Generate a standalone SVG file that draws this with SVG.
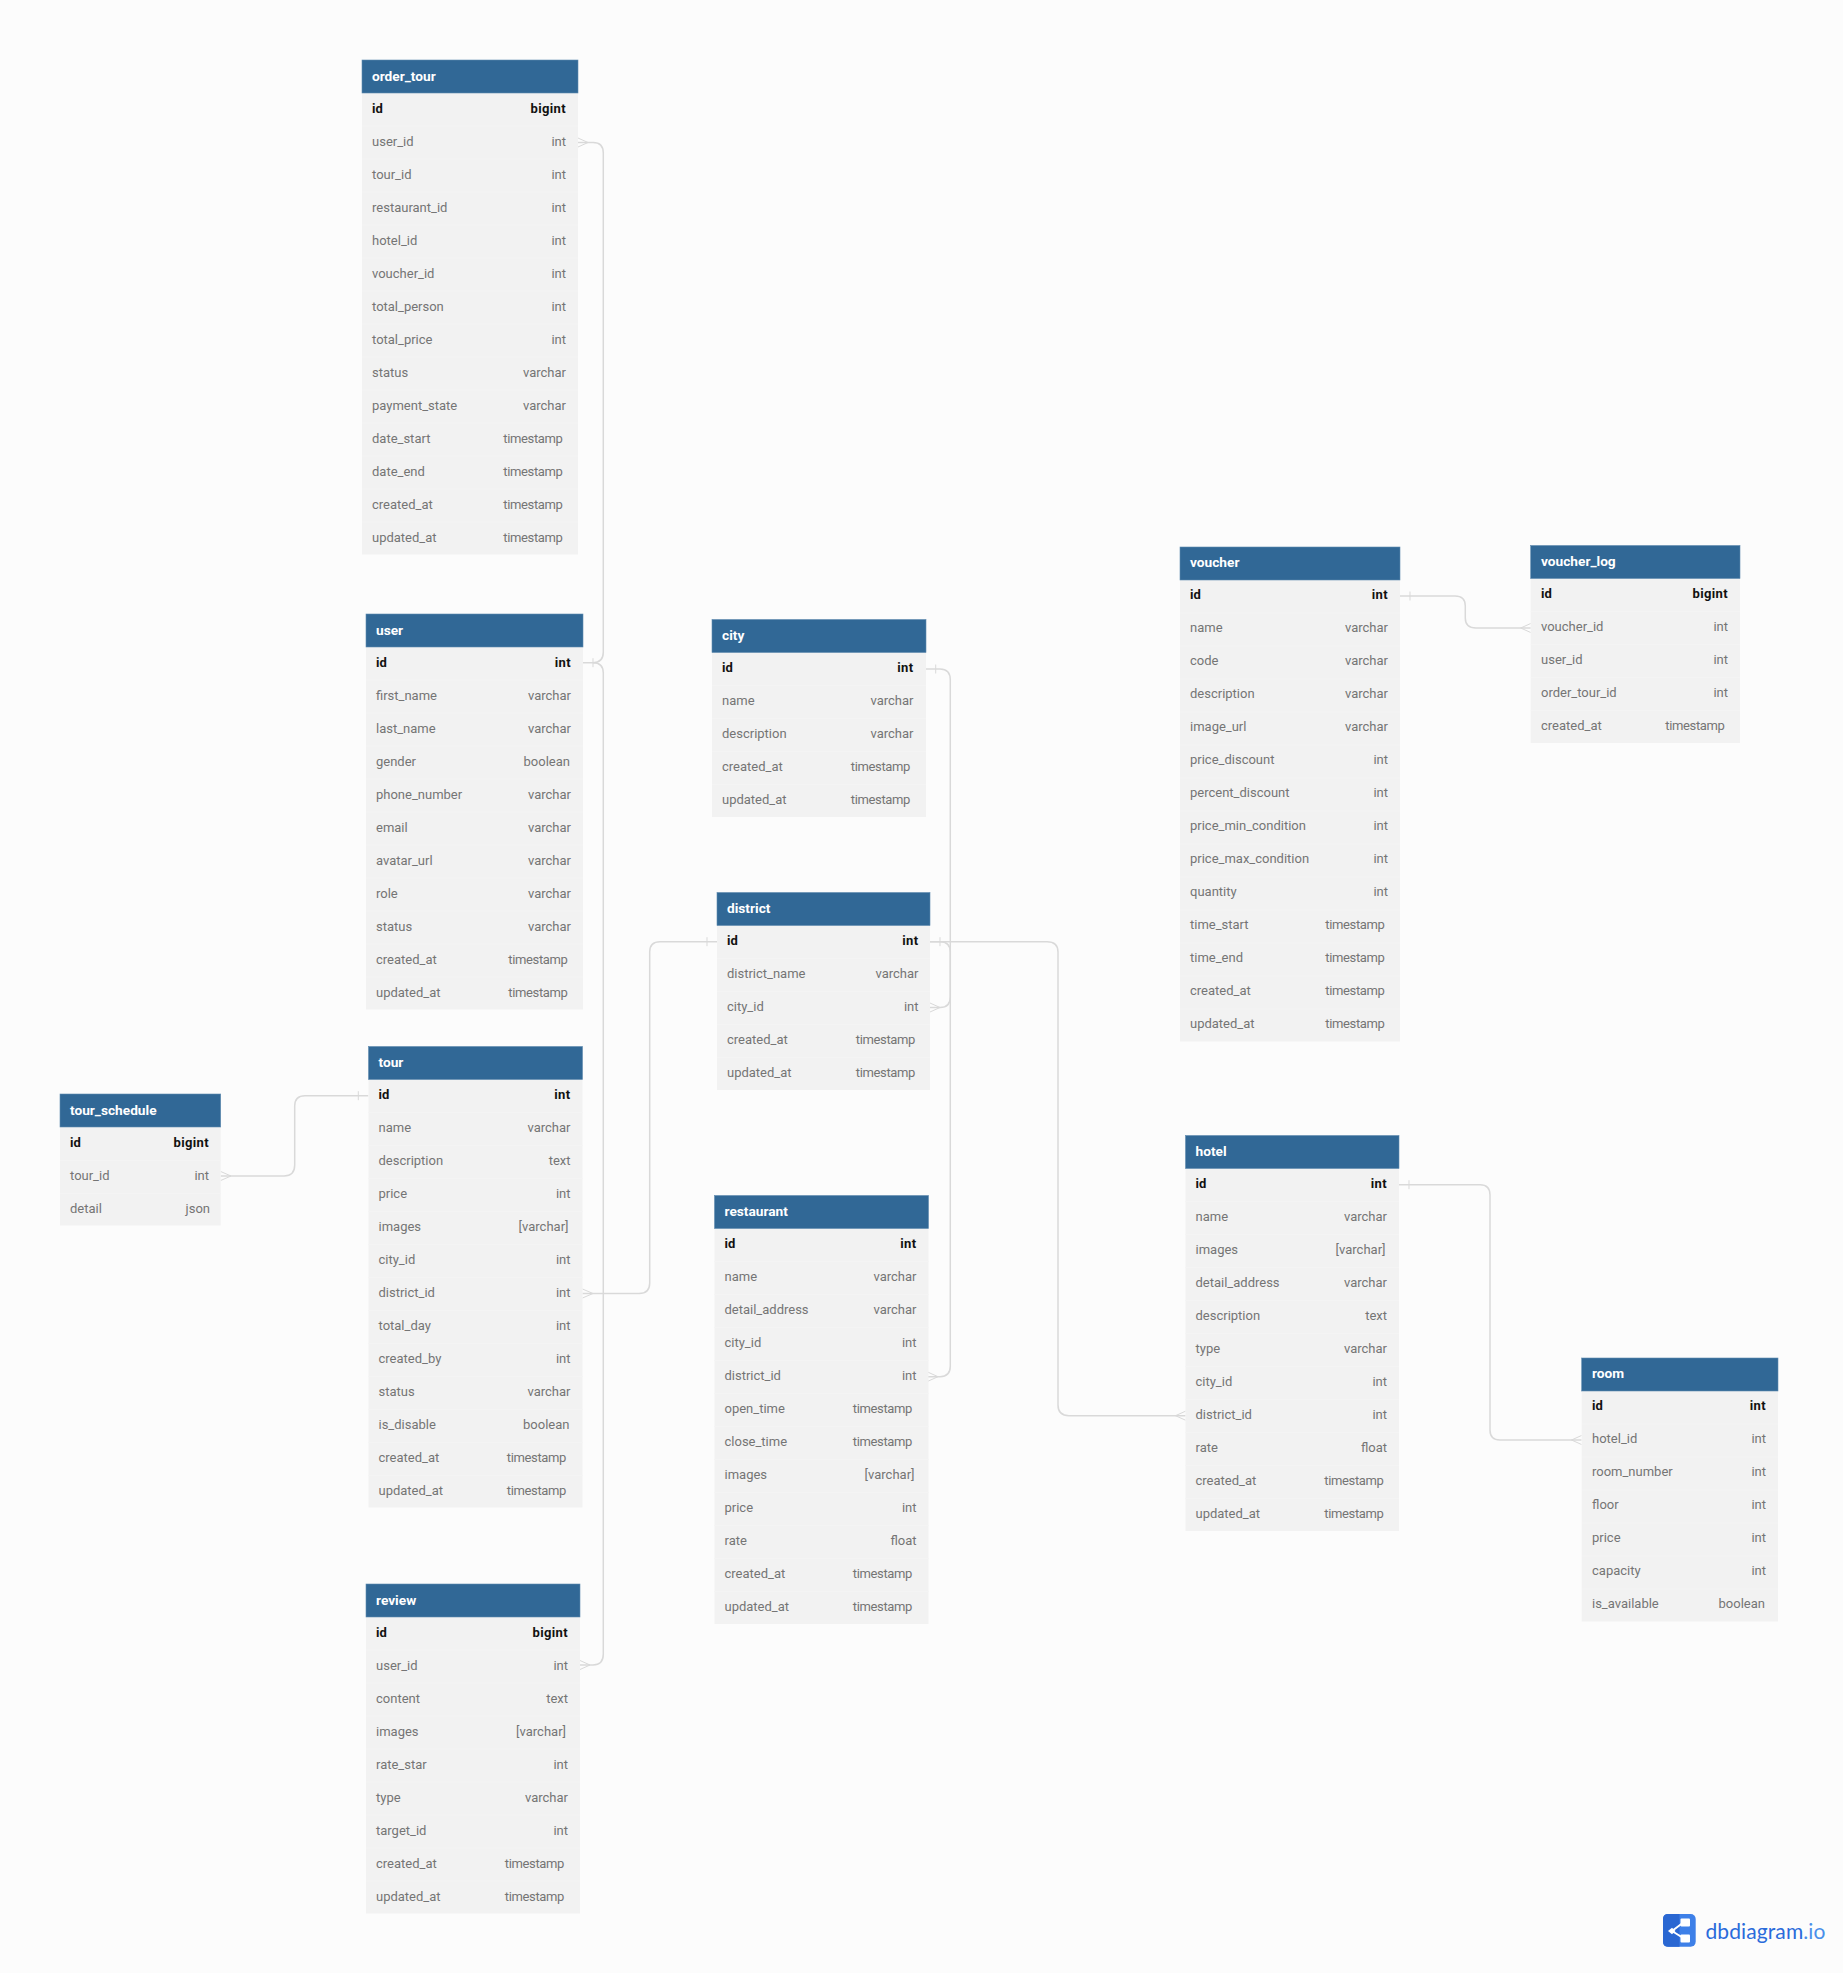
<svg xmlns="http://www.w3.org/2000/svg" width="1843" height="1973" viewBox="0 0 1843 1973">
<style>
text{font-family:Roboto,"Liberation Sans",sans-serif;font-size:13px}
.bg{fill:#f2f2f2}
.rw{stroke:#f4f4f4;stroke-dasharray:1 32;fill:none}
.hd{fill:#316896;stroke:#5f8bb0;stroke-width:.6}
.t{font-weight:700;fill:#fff;font-size:13.7px}
.n{fill:#757575}
.e{fill:#757575;text-anchor:end}
.s{fill:#757575;text-anchor:end;letter-spacing:-.36px}
.kn{fill:#111;font-weight:700}
.ke{fill:#111;font-weight:700;text-anchor:end;letter-spacing:.35px}
.c{fill:none;stroke:#d9d9d9;stroke-width:1.5}
.m{fill:none;stroke:#d9d9d9;stroke-width:1}
</style>
<rect width="1843" height="1973" fill="#fcfcfc"/>
<g id="connectors">
<path class="c" d="M578 142.500H593Q603.300 142.500 603.300 153V652Q603.300 662.700 593 662.700H583"/>
<path class="c" d="M580 1665H593Q603.300 1665 603.300 1654V673Q603.300 662.700 593 662.700"/>
<path class="c" d="M220.700 1176H284Q294.700 1176 294.700 1165V1106Q294.700 1095.700 305 1095.700H368.300"/>
<path class="c" d="M582.500 1293.500H639Q649.700 1293.500 649.700 1283V952Q649.700 941.700 660 941.700H717"/>
<path class="c" d="M925.700 669H940Q950.300 669 950.300 680V997Q950.300 1007.500 940 1007.500H930"/>
<path class="c" d="M930 941.700H940Q950.300 941.700 950.300 952V1366Q950.300 1376.700 940 1376.700H928"/>
<path class="c" d="M930 941.700H1047Q1058 941.700 1058 952V1405Q1058 1415.700 1069 1415.700H1185.500"/>
<path class="c" d="M1400 596H1455Q1465.300 596 1465.300 606V618Q1465.300 628 1476 628H1530.700"/>
<path class="c" d="M1399 1184.700H1480Q1490 1184.700 1490 1195V1430Q1490 1440 1500 1440H1581.500"/>
<path class="m" d="M578 138L588 142.500L578 147M593 658.200V667.200M580 1660.500L590 1665L580 1669.500"/>
<path class="m" d="M220.700 1171.500L231 1176L220.700 1180.500M358.300 1091.200V1100.200"/>
<path class="m" d="M582.500 1289L593 1293.500L582.500 1298M707 937.200V946.200"/>
<path class="m" d="M935.700 664.500V673.500M930 1003L940 1007.500L930 1012"/>
<path class="m" d="M940 937.200V946.200M928 1372.200L938 1376.700L928 1381.200"/>
<path class="m" d="M1185.500 1411.200L1175.500 1415.700L1185.500 1420.200"/>
<path class="m" d="M1410 591.500V600.500M1530.700 623.500L1520.700 628L1530.700 632.500"/>
<path class="m" d="M1409 1180.200V1189.200M1581.500 1435.500L1571.500 1440L1581.500 1444.500"/>
</g>
<g id="order_tour">
<rect class="bg" x="362" y="92.500" width="216" height="462"/><path class="rw" stroke-width="216" d="M470 125.500V554"/><rect class="hd" x="362" y="60" width="216" height="33"/>
<text class="t" x="372" y="80.500">order_tour</text>
<text class="kn" x="372" y="113">id</text><text class="ke" x="566" y="113">bigint</text>
<text class="n" x="372" y="146">user_id</text><text class="e" x="566" y="146">int</text>
<text class="n" x="372" y="179">tour_id</text><text class="e" x="566" y="179">int</text>
<text class="n" x="372" y="212">restaurant_id</text><text class="e" x="566" y="212">int</text>
<text class="n" x="372" y="245">hotel_id</text><text class="e" x="566" y="245">int</text>
<text class="n" x="372" y="278">voucher_id</text><text class="e" x="566" y="278">int</text>
<text class="n" x="372" y="311">total_person</text><text class="e" x="566" y="311">int</text>
<text class="n" x="372" y="344">total_price</text><text class="e" x="566" y="344">int</text>
<text class="n" x="372" y="377">status</text><text class="e" x="566" y="377">varchar</text>
<text class="n" x="372" y="410">payment_state</text><text class="e" x="566" y="410">varchar</text>
<text class="n" x="372" y="443">date_start</text><text class="s" x="562.500" y="443">timestamp</text>
<text class="n" x="372" y="476">date_end</text><text class="s" x="562.500" y="476">timestamp</text>
<text class="n" x="372" y="509">created_at</text><text class="s" x="562.500" y="509">timestamp</text>
<text class="n" x="372" y="542">updated_at</text><text class="s" x="562.500" y="542">timestamp</text>
</g>
<g id="user">
<rect class="bg" x="366" y="646.500" width="217" height="363"/><path class="rw" stroke-width="217" d="M474.500 679.500V1009"/><rect class="hd" x="366" y="614" width="217" height="33"/>
<text class="t" x="376" y="634.500">user</text>
<text class="kn" x="376" y="667">id</text><text class="ke" x="571" y="667">int</text>
<text class="n" x="376" y="700">first_name</text><text class="e" x="571" y="700">varchar</text>
<text class="n" x="376" y="733">last_name</text><text class="e" x="571" y="733">varchar</text>
<text class="n" x="376" y="766">gender</text><text class="e" x="570" y="766">boolean</text>
<text class="n" x="376" y="799">phone_number</text><text class="e" x="571" y="799">varchar</text>
<text class="n" x="376" y="832">email</text><text class="e" x="571" y="832">varchar</text>
<text class="n" x="376" y="865">avatar_url</text><text class="e" x="571" y="865">varchar</text>
<text class="n" x="376" y="898">role</text><text class="e" x="571" y="898">varchar</text>
<text class="n" x="376" y="931">status</text><text class="e" x="571" y="931">varchar</text>
<text class="n" x="376" y="964">created_at</text><text class="s" x="567.500" y="964">timestamp</text>
<text class="n" x="376" y="997">updated_at</text><text class="s" x="567.500" y="997">timestamp</text>
</g>
<g id="tour">
<rect class="bg" x="368.500" y="1078.500" width="214" height="429"/><path class="rw" stroke-width="214" d="M475.500 1112V1507"/><rect class="hd" x="368.500" y="1046.500" width="214" height="33"/>
<text class="t" x="378.500" y="1066.500">tour</text>
<text class="kn" x="378.500" y="1099">id</text><text class="ke" x="570.500" y="1099">int</text>
<text class="n" x="378.500" y="1132">name</text><text class="e" x="570.500" y="1132">varchar</text>
<text class="n" x="378.500" y="1165">description</text><text class="e" x="570.500" y="1165">text</text>
<text class="n" x="378.500" y="1198">price</text><text class="e" x="570.500" y="1198">int</text>
<text class="n" x="378.500" y="1231">images</text><text class="e" x="568.500" y="1231">[varchar]</text>
<text class="n" x="378.500" y="1264">city_id</text><text class="e" x="570.500" y="1264">int</text>
<text class="n" x="378.500" y="1297">district_id</text><text class="e" x="570.500" y="1297">int</text>
<text class="n" x="378.500" y="1330">total_day</text><text class="e" x="570.500" y="1330">int</text>
<text class="n" x="378.500" y="1363">created_by</text><text class="e" x="570.500" y="1363">int</text>
<text class="n" x="378.500" y="1396">status</text><text class="e" x="570.500" y="1396">varchar</text>
<text class="n" x="378.500" y="1429">is_disable</text><text class="e" x="569.500" y="1429">boolean</text>
<text class="n" x="378.500" y="1462">created_at</text><text class="s" x="566" y="1462">timestamp</text>
<text class="n" x="378.500" y="1495">updated_at</text><text class="s" x="566" y="1495">timestamp</text>
</g>
<g id="tour_schedule">
<rect class="bg" x="60" y="1126.500" width="160.700" height="99"/><path class="rw" stroke-width="160.700" d="M140.350 1160V1225"/><rect class="hd" x="60" y="1094" width="160.700" height="33"/>
<text class="t" x="70" y="1114.500">tour_schedule</text>
<text class="kn" x="70" y="1147">id</text><text class="ke" x="209" y="1147">bigint</text>
<text class="n" x="70" y="1180">tour_id</text><text class="e" x="209" y="1180">int</text>
<text class="n" x="70" y="1213">detail</text><text class="e" x="210" y="1213">json</text>
</g>
<g id="review">
<rect class="bg" x="366" y="1616.500" width="214" height="297"/><path class="rw" stroke-width="214" d="M473 1649.500V1913"/><rect class="hd" x="366" y="1584" width="214" height="33"/>
<text class="t" x="376" y="1604.500">review</text>
<text class="kn" x="376" y="1637">id</text><text class="ke" x="568" y="1637">bigint</text>
<text class="n" x="376" y="1670">user_id</text><text class="e" x="568" y="1670">int</text>
<text class="n" x="376" y="1703">content</text><text class="e" x="568" y="1703">text</text>
<text class="n" x="376" y="1736">images</text><text class="e" x="566" y="1736">[varchar]</text>
<text class="n" x="376" y="1769">rate_star</text><text class="e" x="568" y="1769">int</text>
<text class="n" x="376" y="1802">type</text><text class="e" x="568" y="1802">varchar</text>
<text class="n" x="376" y="1835">target_id</text><text class="e" x="568" y="1835">int</text>
<text class="n" x="376" y="1868">created_at</text><text class="s" x="564" y="1868">timestamp</text>
<text class="n" x="376" y="1901">updated_at</text><text class="s" x="564" y="1901">timestamp</text>
</g>
<g id="city">
<rect class="bg" x="712" y="652" width="214" height="165"/><path class="rw" stroke-width="214" d="M819 685V817"/><rect class="hd" x="712" y="619.500" width="214" height="33"/>
<text class="t" x="722" y="639.500">city</text>
<text class="kn" x="722" y="672">id</text><text class="ke" x="913.500" y="672">int</text>
<text class="n" x="722" y="705">name</text><text class="e" x="913.500" y="705">varchar</text>
<text class="n" x="722" y="738">description</text><text class="e" x="913.500" y="738">varchar</text>
<text class="n" x="722" y="771">created_at</text><text class="s" x="910" y="771">timestamp</text>
<text class="n" x="722" y="804">updated_at</text><text class="s" x="910" y="804">timestamp</text>
</g>
<g id="district">
<rect class="bg" x="717" y="925" width="213" height="165"/><path class="rw" stroke-width="213" d="M823.500 958V1090"/><rect class="hd" x="717" y="892.500" width="213" height="33"/>
<text class="t" x="727" y="912.500">district</text>
<text class="kn" x="727" y="945">id</text><text class="ke" x="918.500" y="945">int</text>
<text class="n" x="727" y="978">district_name</text><text class="e" x="918.500" y="978">varchar</text>
<text class="n" x="727" y="1011">city_id</text><text class="e" x="918.500" y="1011">int</text>
<text class="n" x="727" y="1044">created_at</text><text class="s" x="915" y="1044">timestamp</text>
<text class="n" x="727" y="1077">updated_at</text><text class="s" x="915" y="1077">timestamp</text>
</g>
<g id="restaurant">
<rect class="bg" x="714.500" y="1228" width="214" height="396"/><path class="rw" stroke-width="214" d="M821.500 1261V1624"/><rect class="hd" x="714.500" y="1195.500" width="214" height="33"/>
<text class="t" x="724.500" y="1215.500">restaurant</text>
<text class="kn" x="724.500" y="1248">id</text><text class="ke" x="916.500" y="1248">int</text>
<text class="n" x="724.500" y="1281">name</text><text class="e" x="916.500" y="1281">varchar</text>
<text class="n" x="724.500" y="1314">detail_address</text><text class="e" x="916.500" y="1314">varchar</text>
<text class="n" x="724.500" y="1347">city_id</text><text class="e" x="916.500" y="1347">int</text>
<text class="n" x="724.500" y="1380">district_id</text><text class="e" x="916.500" y="1380">int</text>
<text class="n" x="724.500" y="1413">open_time</text><text class="s" x="912" y="1413">timestamp</text>
<text class="n" x="724.500" y="1446">close_time</text><text class="s" x="912" y="1446">timestamp</text>
<text class="n" x="724.500" y="1479">images</text><text class="e" x="914.500" y="1479">[varchar]</text>
<text class="n" x="724.500" y="1512">price</text><text class="e" x="916.500" y="1512">int</text>
<text class="n" x="724.500" y="1545">rate</text><text class="e" x="916.500" y="1545">float</text>
<text class="n" x="724.500" y="1578">created_at</text><text class="s" x="912" y="1578">timestamp</text>
<text class="n" x="724.500" y="1611">updated_at</text><text class="s" x="912" y="1611">timestamp</text>
</g>
<g id="voucher">
<rect class="bg" x="1180" y="579.500" width="220" height="462"/><path class="rw" stroke-width="220" d="M1290 612.500V1041"/><rect class="hd" x="1180" y="547" width="220" height="33"/>
<text class="t" x="1190" y="566.500">voucher</text>
<text class="kn" x="1190" y="599">id</text><text class="ke" x="1388" y="599">int</text>
<text class="n" x="1190" y="632">name</text><text class="e" x="1388" y="632">varchar</text>
<text class="n" x="1190" y="665">code</text><text class="e" x="1388" y="665">varchar</text>
<text class="n" x="1190" y="698">description</text><text class="e" x="1388" y="698">varchar</text>
<text class="n" x="1190" y="731">image_url</text><text class="e" x="1388" y="731">varchar</text>
<text class="n" x="1190" y="764">price_discount</text><text class="e" x="1388" y="764">int</text>
<text class="n" x="1190" y="797">percent_discount</text><text class="e" x="1388" y="797">int</text>
<text class="n" x="1190" y="830">price_min_condition</text><text class="e" x="1388" y="830">int</text>
<text class="n" x="1190" y="863">price_max_condition</text><text class="e" x="1388" y="863">int</text>
<text class="n" x="1190" y="896">quantity</text><text class="e" x="1388" y="896">int</text>
<text class="n" x="1190" y="929">time_start</text><text class="s" x="1384.500" y="929">timestamp</text>
<text class="n" x="1190" y="962">time_end</text><text class="s" x="1384.500" y="962">timestamp</text>
<text class="n" x="1190" y="995">created_at</text><text class="s" x="1384.500" y="995">timestamp</text>
<text class="n" x="1190" y="1028">updated_at</text><text class="s" x="1384.500" y="1028">timestamp</text>
</g>
<g id="voucher_log">
<rect class="bg" x="1530.700" y="578" width="209.300" height="165"/><path class="rw" stroke-width="209.300" d="M1635.350 611V743"/><rect class="hd" x="1530.700" y="545.500" width="209.300" height="33"/>
<text class="t" x="1541" y="565.500">voucher_log</text>
<text class="kn" x="1541" y="598">id</text><text class="ke" x="1728" y="598">bigint</text>
<text class="n" x="1541" y="631">voucher_id</text><text class="e" x="1728" y="631">int</text>
<text class="n" x="1541" y="664">user_id</text><text class="e" x="1728" y="664">int</text>
<text class="n" x="1541" y="697">order_tour_id</text><text class="e" x="1728" y="697">int</text>
<text class="n" x="1541" y="730">created_at</text><text class="s" x="1724.500" y="730">timestamp</text>
</g>
<g id="hotel">
<rect class="bg" x="1185.500" y="1168" width="213.500" height="363"/><path class="rw" stroke-width="213.500" d="M1292.250 1201V1531"/><rect class="hd" x="1185.500" y="1135.500" width="213.500" height="33"/>
<text class="t" x="1195.500" y="1155.500">hotel</text>
<text class="kn" x="1195.500" y="1188">id</text><text class="ke" x="1387" y="1188">int</text>
<text class="n" x="1195.500" y="1221">name</text><text class="e" x="1387" y="1221">varchar</text>
<text class="n" x="1195.500" y="1254">images</text><text class="e" x="1385.500" y="1254">[varchar]</text>
<text class="n" x="1195.500" y="1287">detail_address</text><text class="e" x="1387" y="1287">varchar</text>
<text class="n" x="1195.500" y="1320">description</text><text class="e" x="1387" y="1320">text</text>
<text class="n" x="1195.500" y="1353">type</text><text class="e" x="1387" y="1353">varchar</text>
<text class="n" x="1195.500" y="1386">city_id</text><text class="e" x="1387" y="1386">int</text>
<text class="n" x="1195.500" y="1419">district_id</text><text class="e" x="1387" y="1419">int</text>
<text class="n" x="1195.500" y="1452">rate</text><text class="e" x="1387" y="1452">float</text>
<text class="n" x="1195.500" y="1485">created_at</text><text class="s" x="1383.500" y="1485">timestamp</text>
<text class="n" x="1195.500" y="1518">updated_at</text><text class="s" x="1383.500" y="1518">timestamp</text>
</g>
<g id="room">
<rect class="bg" x="1581.700" y="1390.500" width="196.300" height="231"/><path class="rw" stroke-width="196.300" d="M1679.850 1423.500V1621.500"/><rect class="hd" x="1581.700" y="1358" width="196.300" height="33"/>
<text class="t" x="1592" y="1377.500">room</text>
<text class="kn" x="1592" y="1410">id</text><text class="ke" x="1766" y="1410">int</text>
<text class="n" x="1592" y="1443">hotel_id</text><text class="e" x="1766" y="1443">int</text>
<text class="n" x="1592" y="1476">room_number</text><text class="e" x="1766" y="1476">int</text>
<text class="n" x="1592" y="1509">floor</text><text class="e" x="1766" y="1509">int</text>
<text class="n" x="1592" y="1542">price</text><text class="e" x="1766" y="1542">int</text>
<text class="n" x="1592" y="1575">capacity</text><text class="e" x="1766" y="1575">int</text>
<text class="n" x="1592" y="1608">is_available</text><text class="e" x="1765" y="1608">boolean</text>
</g>
<g id="logo">
<rect x="1663" y="1914" width="32.700" height="32.700" rx="5" fill="#3e80e8"/>
<path d="M1668 1914H1679.500V1946.700H1668Q1663 1946.700 1663 1941.700V1919Q1663 1914 1668 1914Z" fill="#2a67d2"/>
<path d="M1672 1931L1684 1922M1672 1931L1684 1938.500" stroke="#fff" stroke-width="2" fill="none"/>
<path d="M1668 1931L1672 1927.700L1675.500 1931L1672 1934.300Z" fill="#fff"/>
<rect x="1680.500" y="1918.500" width="9.500" height="8" rx="1" fill="#fff"/>
<rect x="1680.500" y="1934.500" width="9.500" height="8" rx="1" fill="#fff"/>
<text x="1705.500" y="1938.500" style="font-family:Lato,'Open Sans',sans-serif;font-size:21px;fill:#2a6bdb;letter-spacing:.1px">dbdiagram<tspan fill="#4a8fea">.io</tspan></text>
</g>
</svg>
